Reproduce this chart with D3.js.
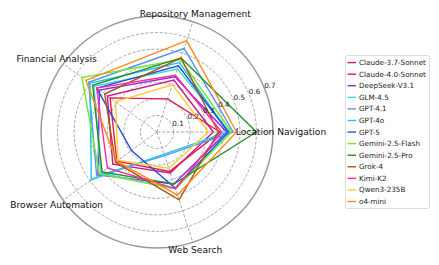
<!DOCTYPE html>
<html>
<head>
<meta charset="utf-8">
<script src="https://cdn.jsdelivr.net/npm/d3@7"></script>
<style>
  body { margin: 0; background: #fff; }
  svg { display: block; font-family: "DejaVu Sans", sans-serif; }
</style>
</head>
<body>
<svg id="chart" width="439" height="265"></svg>
<script>
"use strict";

// axes, counter-clockwise from east
const categories = ["Location Navigation", "Repository Management", "Financial Analysis",
                    "Browser Automation", "Web Search"];
const radialTicks = [0.1, 0.2, 0.3, 0.4, 0.5, 0.6, 0.7];
const models = ["Claude-3.7-Sonnet", "Claude-4.0-Sonnet", "DeepSeek-V3.1", "GLM-4.5",
                "GPT-4.1", "GPT-4o", "GPT-5", "Gemini-2.5-Flash", "Gemini-2.5-Pro",
                "Grok-4", "Kimi-K2", "Qwen3-235B", "o4-mini"];
const colors = ["#c8168f", "#e8174a", "#8a2be2", "#40dcd0", "#5596ee", "#1ec4f2", "#2350de",
                "#72e62c", "#1f8f2a", "#a8560f", "#ff2a9d", "#ffcc33", "#ff8a1c"];

// values per model in category order
const scores = [
  [0.34, 0.33, 0.37, 0.33, 0.26],  // Claude-3.7-Sonnet
  [0.38, 0.21, 0.35, 0.30, 0.25],  // Claude-4.0-Sonnet
  [0.42, 0.35, 0.43, 0.44, 0.33],  // DeepSeek-V3.1
  [0.44, 0.40, 0.47, 0.42, 0.36],  // GLM-4.5
  [0.46, 0.53, 0.51, 0.45, 0.15],  // GPT-4.1
  [0.43, 0.44, 0.50, 0.49, 0.14],  // GPT-4o
  [0.43, 0.42, 0.45, 0.19, 0.355], // GPT-5
  [0.45, 0.46, 0.56, 0.43, 0.36],  // Gemini-2.5-Flash
  [0.60, 0.47, 0.48, 0.41, 0.33],  // Gemini-2.5-Pro
  [0.37, 0.47, 0.39, 0.31, 0.43],  // Grok-4
  [0.39, 0.36, 0.45, 0.37, 0.36],  // Kimi-K2
  [0.31, 0.30, 0.31, 0.29, 0.23],  // Qwen3-235B
  [0.48, 0.58, 0.53, 0.30, 0.40],  // o4-mini
];

const svg = d3.select("#chart");
const cx = 157, cy = 132;
const rScale = d3.scaleLinear().domain([0, 0.7]).range([0, 116]);
const angle = d3.scaleLinear().domain([0, categories.length]).range([0, 2 * Math.PI]);

function px(v, a) { return cx + rScale(v) * Math.cos(a); }
function py(v, a) { return cy - rScale(v) * Math.sin(a); }

const grid = svg.append("g");

// dashed rings, last one is the solid frame
grid.selectAll("circle.ring")
    .data(radialTicks.slice(0, -1))
    .enter()
    .append("circle")
    .attr("cx", cx).attr("cy", cy)
    .attr("r", d => rScale(d))
    .attr("fill", "none")
    .attr("stroke", "#a0a0a0")
    .attr("stroke-width", 0.9)
    .attr("stroke-dasharray", "3.2,1.6");

grid.selectAll("line.spoke")
    .data(categories)
    .enter()
    .append("line")
    .attr("x1", cx).attr("y1", cy)
    .attr("x2", (d, i) => px(0.7, angle(i)))
    .attr("y2", (d, i) => py(0.7, angle(i)))
    .attr("stroke", "#a0a0a0")
    .attr("stroke-width", 0.9)
    .attr("stroke-dasharray", "3.2,1.6");

grid.append("circle")
    .attr("cx", cx).attr("cy", cy)
    .attr("r", rScale(0.7))
    .attr("fill", "none")
    .attr("stroke", "#9a9a9a")
    .attr("stroke-width", 1.5);

// Series
const line = d3.line()
    .x((v, i) => px(v, angle(i)))
    .y((v, i) => py(v, angle(i)))
    .curve(d3.curveLinearClosed);

svg.append("g")
    .selectAll("path")
    .data(scores)
    .enter()
    .append("path")
    .attr("d", d => line(d))
    .attr("fill", "none")
    .attr("stroke", (d, i) => colors[i])
    .attr("stroke-width", 1.4)
    .attr("stroke-linejoin", "miter");

// Radial tick labels at 22.5 degrees
const labelAngle = 22.5 * Math.PI / 180;
svg.append("g")
    .selectAll("text")
    .data(radialTicks)
    .enter()
    .append("text")
    .attr("x", d => px(d, labelAngle))
    .attr("y", d => py(d, labelAngle))
    .attr("font-size", 7.2)
    .attr("fill", "#222")
    .text(d => d3.format(".1f")(d));

// Category labels
svg.append("g")
    .selectAll("text")
    .data(categories)
    .enter()
    .append("text")
    .attr("x", (d, i) => cx + 124 * Math.cos(angle(i)))
    .attr("y", (d, i) => cy - 124 * Math.sin(angle(i)))
    .attr("text-anchor", "middle")
    .attr("dominant-baseline", "central")
    .attr("font-size", 9.1)
    .attr("fill", "#111")
    .text(d => d);

// Legend
const legend = svg.append("g").attr("transform", "translate(345,55)");
legend.append("rect")
    .attr("x", 0.5).attr("y", 0.5)
    .attr("width", 84).attr("height", 153)
    .attr("rx", 2)
    .attr("fill", "#fff")
    .attr("stroke", "#d4d4d4")
    .attr("stroke-width", 0.8);

const rowY = d3.scaleLinear().domain([0, models.length - 1]).range([7.6, 146.5]);
const rows = legend.selectAll("g.row")
    .data(models)
    .enter()
    .append("g")
    .attr("transform", (d, i) => `translate(0,${rowY(i)})`);

rows.append("line")
    .attr("x1", 2.5).attr("x2", 11)
    .attr("stroke", (d, i) => colors[i])
    .attr("stroke-width", 1.4);

rows.append("text")
    .attr("x", 14)
    .attr("dominant-baseline", "central")
    .attr("font-size", 7.2)
    .attr("fill", "#222")
    .text(d => d);
</script>
</body>
</html>
